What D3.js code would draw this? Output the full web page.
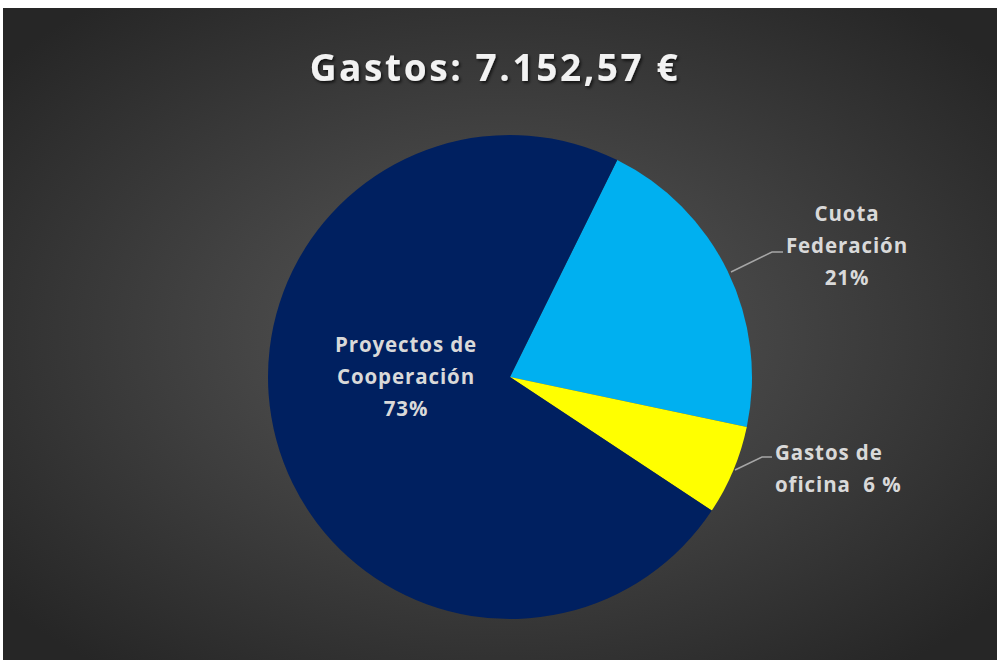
<!DOCTYPE html>
<html><head><meta charset="utf-8">
<script src="https://cdn.jsdelivr.net/npm/d3@7"></script>
<style>
html,body{margin:0;padding:0;background:#fff;}
svg{display:block;}
</style></head>
<body>
<svg id="chart" width="1002" height="663"></svg>
<script>
const title = "Gastos: 7.152,57 €";
const categories = ["Cuota Federación", "Gastos de oficina", "Proyectos de Cooperación"];
const values = [21, 6, 73];
const labelLines = [["Cuota", "Federación", "21%"], ["Gastos de", "oficina  6 %"], ["Proyectos de", "Cooperación", "73%"]];
const colors = ["#00B0F0", "#FFFF00", "#002060"];

const svg = d3.select("#chart");
const defs = svg.append("defs");
const grad = defs.append("radialGradient").attr("id", "bg")
  .attr("cx", "50%").attr("cy", "50%").attr("r", "65%");
grad.append("stop").attr("offset", "0%").attr("stop-color", "#595959");
grad.append("stop").attr("offset", "100%").attr("stop-color", "#262626");
const sh = defs.append("filter").attr("id", "shadow").attr("x", "-10%").attr("y", "-30%").attr("width", "120%").attr("height", "160%");
sh.append("feDropShadow").attr("dx", 1.5).attr("dy", 2).attr("stdDeviation", 1.5).attr("flood-color", "#000").attr("flood-opacity", 0.7);

svg.append("rect").attr("x", 3).attr("y", 8).attr("width", 994).attr("height", 652).attr("fill", "url(#bg)");

svg.append("text").attr("x", 495).attr("y", 81).attr("text-anchor", "middle")
  .attr("font-family", "Open Sans").attr("font-weight", "bold").attr("font-size", 37)
  .attr("letter-spacing", 2.6)
  .attr("fill", "#F2F2F2").attr("filter", "url(#shadow)").text(title);

const cx = 510, cy = 377, R = 242;
const startDeg = 26.3;
const pie = d3.pie().sort(null).value(d => d)
  .startAngle(startDeg * Math.PI / 180).endAngle(startDeg * Math.PI / 180 + 2 * Math.PI);
const arc = d3.arc().innerRadius(0).outerRadius(R);
const g = svg.append("g").attr("transform", `translate(${cx},${cy})`);
const arcs = pie(values);
g.selectAll("path.slice").data(arcs).enter().append("path").attr("class", "slice")
  .attr("d", arc).attr("fill", (d, i) => colors[i]);

// leader lines
const leaders = [
  [[731 - cx, 272 - cy], [772 - cx, 252 - cy], [783 - cx, 252 - cy]],
  [[735 - cx, 470 - cy], [762 - cx, 457 - cy], [772 - cx, 457 - cy]]
];
leaders.forEach(pts => {
  g.append("path").attr("d", d3.line()(pts)).attr("fill", "none")
    .attr("stroke", "#A6A6A6").attr("stroke-width", 1.5);
});

const labelPos = [
  {x: 847 - cx, y: 221 - cy, anchor: "middle"},
  {x: 775 - cx, y: 460 - cy, anchor: "start"},
  {x: 406 - cx, y: 352 - cy, anchor: "middle"}
];
const lh = 32;
labelLines.forEach((lines, i) => {
  const t = g.append("text").attr("font-family", "Open Sans").attr("font-weight", "bold")
    .attr("font-size", 20.5).attr("letter-spacing", 0.9).attr("fill", "#D9D9D9").attr("text-anchor", labelPos[i].anchor)
    .attr("xml:space", "preserve").style("white-space", "pre");
  lines.forEach((l, j) => {
    t.append("tspan").attr("x", labelPos[i].x).attr("y", labelPos[i].y + j * lh).text(l);
  });
});
</script>
</body></html>
